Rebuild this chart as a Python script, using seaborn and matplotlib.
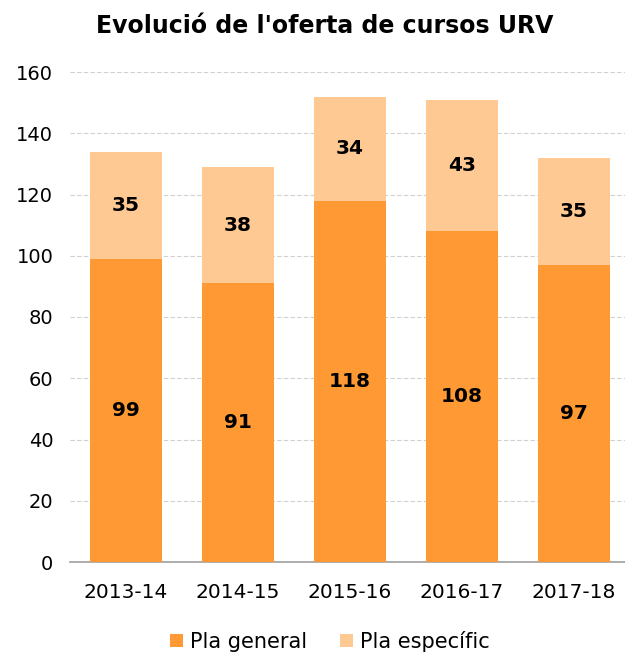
import matplotlib
matplotlib.use("Agg")
import matplotlib.pyplot as plt
import seaborn as sns
import pandas as pd
from matplotlib.patches import Patch

years = ["2013-14", "2014-15", "2015-16", "2016-17", "2017-18"]
pla_general = [99, 91, 118, 108, 97]
pla_especific = [35, 38, 34, 43, 35]
yticks = [0, 20, 40, 60, 80, 100, 120, 140, 160]

c_gen = "#FF9933"
c_esp = "#FFC993"

sns.set_theme(style="white")
plt.rcParams['font.family'] = ['DejaVu Sans']
plt.rcParams['text.color'] = 'black'
plt.rcParams['xtick.color'] = 'black'
plt.rcParams['ytick.color'] = 'black'

df = pd.DataFrame({"year": years, "general": pla_general, "especific": pla_especific})
df["total"] = df["general"] + df["especific"]

fig = plt.figure(figsize=(6.25, 6.52), dpi=100)
ax = fig.add_axes([70/625, 90/652, 560/625, 490/652])

sns.barplot(data=df, x="year", y="total", color=c_esp, width=0.64, ax=ax,
            saturation=1, edgecolor="none", zorder=3)
sns.barplot(data=df, x="year", y="general", color=c_gen, width=0.64, ax=ax,
            saturation=1, edgecolor="none", zorder=3)

for i, (g, e) in enumerate(zip(pla_general, pla_especific)):
    ax.text(i, g / 2, str(g), ha="center", va="center", fontsize=14.5,
            fontweight="bold", color="black", zorder=4)
    ax.text(i, g + e / 2, str(e), ha="center", va="center", fontsize=14.5,
            fontweight="bold", color="black", zorder=4)

ax.set_ylim(0, 160)
ax.set_xlim(-0.5, 4.5)
ax.set_yticks(yticks)
ax.set_yticklabels([str(t) for t in yticks], fontsize=14)
ax.tick_params(axis="x", labelsize=14.5, length=0, pad=15, colors="black")
ax.tick_params(axis="y", length=0, pad=12, colors="black")
ax.set_xlabel("")
ax.set_ylabel("")
ax.yaxis.grid(True, linestyle=(0, (4, 2)), color="#d0d0d0", linewidth=0.8, zorder=0)
ax.set_axisbelow(True)
for s in ["top", "right", "left"]:
    ax.spines[s].set_visible(False)
ax.spines["bottom"].set_color("#a0a0a0")
ax.spines["bottom"].set_linewidth(1.2)

fig.text(325/625, 1 - 26/652, "Evolució de l'oferta de cursos URV", ha="center", va="center",
         fontsize=17, fontweight="bold", color="black")

handles = [Patch(facecolor=c_gen, edgecolor="none", label="Pla general"),
           Patch(facecolor=c_esp, edgecolor="none", label="Pla específic")]
fig.legend(handles=handles, loc="center", bbox_to_anchor=(330/625, 1 - 641/652), ncol=2,
           frameon=False, fontsize=15, handlelength=0.6, handleheight=0.6,
           handletextpad=0.35, columnspacing=1.6, labelcolor="black")

fig.savefig("out.png", dpi=100)
